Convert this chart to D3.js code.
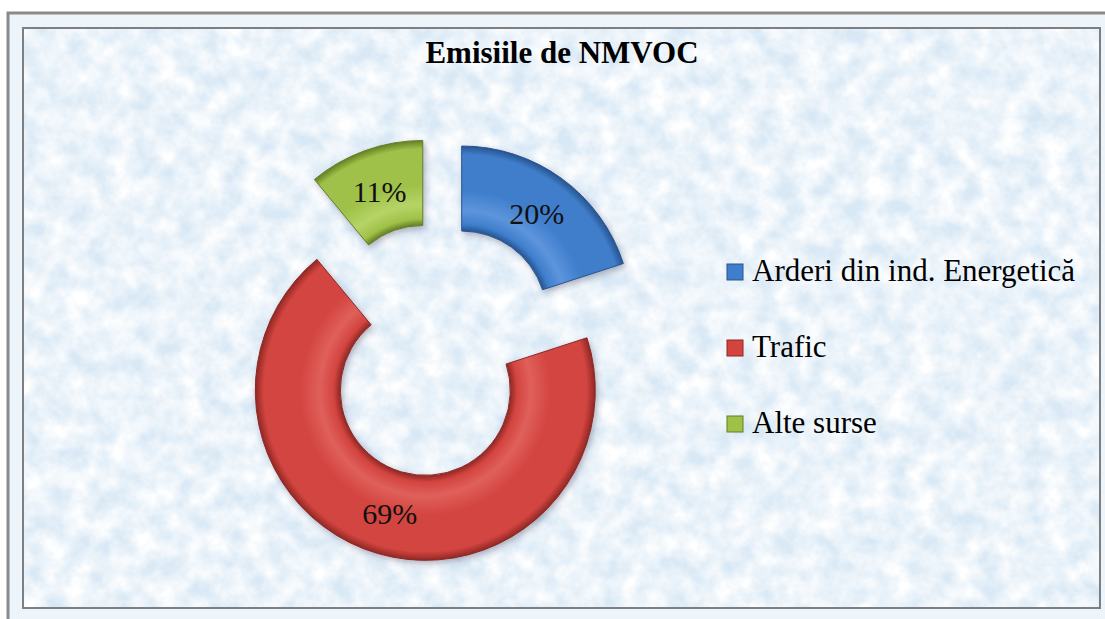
<html>
<head>
<meta charset="utf-8">
<script src="https://d3js.org/d3.v7.min.js"></script>
<style>
body { margin: 0; background: #fff; }
</style>
</head>
<body>
<svg id="chart" width="1105" height="619"></svg>
<script>
var title = "Emisiile de NMVOC";
var categories = ["Arderi din ind. Energetică", "Trafic", "Alte surse"];
var values = [20, 69, 11];
var colors = ["#3f7ecc", "#d3443f", "#9fc148"];
var darks = ["#27548f", "#8e2824", "#647e25"];
var lights = ["#5d95dc", "#e0605b", "#b6d466"];

var serif = "'Liberation Serif', 'Times New Roman', Tinos, 'DejaVu Serif', serif";
var width = 1105, height = 619;
var svg = d3.select("#chart");
var defs = svg.append("defs");

// background texture
var tex = defs.append("filter").attr("id", "tex")
    .attr("x", 0).attr("y", 0).attr("width", 1).attr("height", 1);
tex.append("feTurbulence").attr("type", "fractalNoise")
    .attr("baseFrequency", "0.045").attr("numOctaves", 4).attr("seed", 7);
tex.append("feColorMatrix").attr("type", "matrix")
    .attr("values", "0 0 0 0 1  0 0 0 0 1  0 0 0 0 1  1.7 0 0 0 -0.35");
tex.append("feComposite").attr("in2", "SourceGraphic").attr("operator", "in");

var shadow = defs.append("filter").attr("id", "shadow")
    .attr("x", "-20%").attr("y", "-20%").attr("width", "140%").attr("height", "140%");
shadow.append("feDropShadow").attr("dx", 2).attr("dy", 3).attr("stdDeviation", 3)
    .attr("flood-color", "#335").attr("flood-opacity", 0.35);

// frame
svg.append("rect").attr("x", 8).attr("y", 13).attr("width", 1110).attr("height", 620)
    .attr("fill", "#eef5fa").attr("stroke", "#8a8a8a").attr("stroke-width", 3);
svg.append("rect").attr("x", 23).attr("y", 28).attr("width", 1077).attr("height", 580)
    .attr("fill", "#d8e8f5");
svg.append("rect").attr("x", 23).attr("y", 28).attr("width", 1077).attr("height", 580)
    .attr("fill", "#fff").attr("filter", "url(#tex)");
svg.append("rect").attr("x", 23).attr("y", 28).attr("width", 1077).attr("height", 580)
    .attr("fill", "none").attr("stroke", "#7d7f82").attr("stroke-width", 2);

svg.append("text")
    .attr("x", 562).attr("y", 63).attr("text-anchor", "middle")
    .style("font-family", serif).style("font-weight", "bold").style("font-size", "31px")
    .text(title);

// donut
var cx = 437, cy = 350, R = 170, r = 85, explode = 42;
var total = d3.sum(values);
var pie = d3.pie().sort(null).value(function(d){ return d; });
var arc = d3.arc().innerRadius(r).outerRadius(R);
var arcs = pie(values);

arcs.forEach(function(a, i){
    var g = defs.append("radialGradient").attr("id", "grad" + i)
        .attr("gradientUnits", "userSpaceOnUse")
        .attr("cx", 0).attr("cy", 0).attr("r", R);
    g.append("stop").attr("offset", "50%").attr("stop-color", darks[i]);
    g.append("stop").attr("offset", "54%").attr("stop-color", colors[i]);
    g.append("stop").attr("offset", "62%").attr("stop-color", lights[i]);
    g.append("stop").attr("offset", "74%").attr("stop-color", colors[i]);
    g.append("stop").attr("offset", "95%").attr("stop-color", colors[i]);
    g.append("stop").attr("offset", "100%").attr("stop-color", darks[i]);
});

var slices = svg.append("g").attr("transform", "translate(" + cx + "," + cy + ")")
    .selectAll("g").data(arcs).enter().append("g")
    .attr("transform", function(d){
        var m = (d.startAngle + d.endAngle) / 2;
        return "translate(" + (Math.sin(m) * explode) + "," + (-Math.cos(m) * explode) + ")";
    });

slices.append("path")
    .attr("d", arc)
    .attr("fill", function(d, i){ return "url(#grad" + i + ")"; })
    .attr("stroke", function(d, i){ return darks[i]; })
    .attr("stroke-width", 1)
    .attr("filter", "url(#shadow)");

slices.append("text")
    .attr("text-anchor", "middle")
    .style("font-family", serif).style("font-size", "30px").style("fill", "#111")
    .attr("transform", function(d){
        var c = arc.centroid(d);
        return "translate(" + c[0] + "," + (c[1] + 11) + ")";
    })
    .text(function(d){ return Math.round(d.value / total * 100) + "%"; });

// legend
var legend = svg.append("g").attr("transform", "translate(727,281)")
    .selectAll("g").data(categories).enter().append("g")
    .attr("transform", function(d, i){ return "translate(0," + (i * 76) + ")"; });
legend.append("rect").attr("x", 0).attr("y", -17).attr("width", 16).attr("height", 16)
    .attr("fill", function(d, i){ return colors[i]; })
    .attr("stroke", function(d, i){ return darks[i]; }).attr("stroke-width", 1);
legend.append("text").attr("x", 25).attr("y", 0)
    .style("font-family", serif).style("font-size", "31px").style("fill", "#000")
    .text(function(d){ return d; });
</script>
</body>
</html>
